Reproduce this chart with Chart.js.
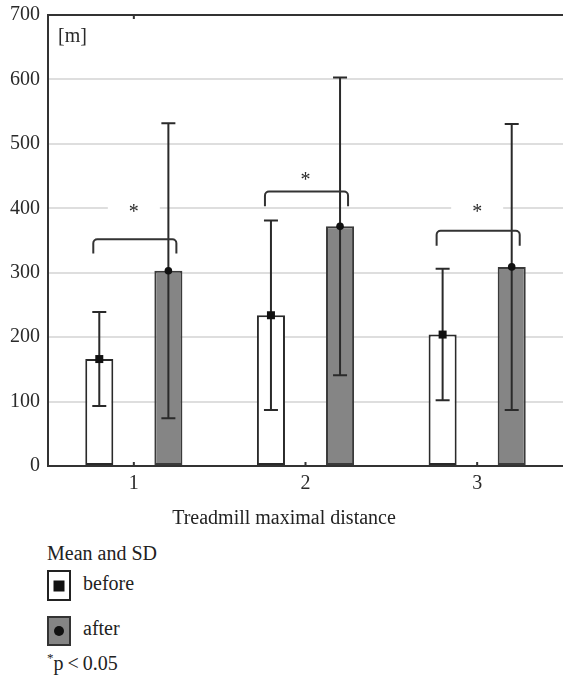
<!DOCTYPE html>
<html>
<head>
<meta charset="utf-8">
<script src="https://cdn.jsdelivr.net/npm/chart.js@4/dist/chart.umd.min.js"></script>
<style>
  body { margin: 0; background: #fff; }
  #wrap { position: relative; width: 563px; height: 678px; font-family: "Liberation Serif", serif; color: #222; }
  #chartBox { position: absolute; left: 0; top: 0; width: 563px; height: 540px; }
  .txt { position: absolute; font-size: 20px; line-height: 24px; white-space: nowrap; }
  .box { position: absolute; box-sizing: border-box; border: 2px solid #222; }
  .box i { position: absolute; left: 50%; top: 50%; background: #111; transform: translate(-50%, -50%); }
</style>
</head>
<body>
<div id="wrap">
  <div id="chartBox"><canvas id="chart"></canvas></div>
  <div class="txt" style="left:0; width:568px; text-align:center; top:505px;">Treadmill maximal distance</div>
  <div class="txt" style="left:47px; top:541px;">Mean and SD</div>
  <div class="box" style="left:47px; top:570px; width:24px; height:31px; background:#fff;"><i style="width:11px; height:11px;"></i></div>
  <div class="txt" style="left:83px; top:571px;">before</div>
  <div class="box" style="left:47px; top:616px; width:24px; height:30px; background:#858585; border-color:#333;"><i style="width:10px; height:10px; border-radius:50%;"></i></div>
  <div class="txt" style="left:83px; top:616px;">after</div>
  <div class="txt" style="left:47px; top:651px;"><span style="font-size:13px; position:relative; top:-8px;">*</span>p&thinsp;&lt;&thinsp;0.05</div>
</div>
<script>
const categories = ["1", "2", "3"];
const beforeMean = [166, 234, 204];
const beforeSD = [73, 147, 102];
const afterMean = [303, 372, 309];
const afterSD = [229, 231, 222];
const bracketTop = [352, 426, 365];
const bracketEnd = [330, 403, 342];
const starY = [399, 449, 399];
const yTicks = [0, 100, 200, 300, 400, 500, 600, 700];

const ink = "#2a2a2a";
const serif = "Liberation Serif";

// error bars, mean markers, brackets and stars
const extras = {
  id: "extras",
  beforeDatasetsDraw(chart) {
    const { ctx, scales: { x, y } } = chart;
    ctx.save();
    ctx.fillStyle = "#fff";
    categories.forEach((c, i) => {
      const cx = x.getPixelForValue(i);
      const cy = y.getPixelForValue(starY[i]);
      ctx.fillRect(cx - 26, cy - 5, 52, 10);
    });
    ctx.restore();
  },
  afterDatasetsDraw(chart) {
    const { ctx, chartArea, scales: { x, y } } = chart;
    const m0 = chart.getDatasetMeta(0).data;
    const m1 = chart.getDatasetMeta(1).data;
    ctx.save();
    ctx.strokeStyle = ink;
    ctx.fillStyle = "#111";
    ctx.lineWidth = 2;

    const errBar = (bx, mean, sd) => {
      const top = y.getPixelForValue(mean + sd);
      const bot = y.getPixelForValue(mean - sd);
      ctx.beginPath();
      ctx.moveTo(bx, top); ctx.lineTo(bx, bot);
      ctx.moveTo(bx - 7, top); ctx.lineTo(bx + 7, top);
      ctx.moveTo(bx - 7, bot); ctx.lineTo(bx + 7, bot);
      ctx.stroke();
    };
    m0.forEach((bar, i) => errBar(bar.x, beforeMean[i], beforeSD[i]));
    m1.forEach((bar, i) => errBar(bar.x, afterMean[i], afterSD[i]));

    m0.forEach((bar, i) => {
      const py = y.getPixelForValue(beforeMean[i]);
      ctx.fillRect(bar.x - 4, py - 4, 8, 8);
    });
    m1.forEach((bar, i) => {
      const py = y.getPixelForValue(afterMean[i]);
      ctx.beginPath();
      ctx.arc(bar.x, py, 3.8, 0, Math.PI * 2);
      ctx.fill();
    });

    // brackets
    ctx.strokeStyle = "#333";
    m0.forEach((bar, i) => {
      const x1 = bar.x - 6, x2 = m1[i].x + 8;
      const yt = y.getPixelForValue(bracketTop[i]);
      const ye = y.getPixelForValue(bracketEnd[i]);
      ctx.beginPath();
      ctx.moveTo(x1, ye);
      ctx.arcTo(x1, yt, x1 + 5, yt, 4);
      ctx.arcTo(x2, yt, x2, yt + 5, 4);
      ctx.lineTo(x2, ye);
      ctx.stroke();
    });

    // stars
    ctx.fillStyle = ink;
    ctx.font = "20px " + serif;
    ctx.textAlign = "center";
    ctx.textBaseline = "alphabetic";
    categories.forEach((c, i) => {
      const cx = x.getPixelForValue(i);
      ctx.fillText("*", cx, y.getPixelForValue(starY[i]) + 9.5);
    });

    // frame: top border, small inner ticks
    ctx.strokeStyle = "#333";
    ctx.beginPath();
    ctx.moveTo(chartArea.left - 1, chartArea.top);
    ctx.lineTo(chartArea.right, chartArea.top);
    categories.forEach((c, i) => {
      const cx = x.getPixelForValue(i);
      ctx.moveTo(cx, chartArea.bottom); ctx.lineTo(cx, chartArea.bottom - 4);
    });
    ctx.moveTo(x.getPixelForValue(0), chartArea.top); ctx.lineTo(x.getPixelForValue(0), chartArea.top + 4);
    ctx.stroke();

    // unit label
    ctx.textAlign = "left";
    ctx.textBaseline = "middle";
    ctx.fillText("[m]", chartArea.left + 10, chartArea.top + 22);
    ctx.restore();
  }
};

new Chart(document.getElementById("chart"), {
  type: "bar",
  data: {
    labels: categories,
    datasets: [
      {
        label: "before",
        data: beforeMean,
        backgroundColor: "#ffffff",
        borderColor: ink,
        borderWidth: 2,
        borderSkipped: false
      },
      {
        label: "after",
        data: afterMean,
        backgroundColor: "#858585",
        borderColor: "#3a3a3a",
        borderWidth: 2,
        borderSkipped: false
      }
    ]
  },
  options: {
    responsive: true,
    maintainAspectRatio: false,
    animation: false,
    categoryPercentage: 0.805,
    barPercentage: 0.406,
    layout: { padding: { top: 15, right: 0, left: 0, bottom: 0 } },
    plugins: {
      legend: { display: false },
      tooltip: { enabled: false }
    },
    scales: {
      x: {
        grid: { display: false, drawTicks: false },
        border: { display: true, color: "#333", width: 2 },
        ticks: { color: ink, padding: 6, font: { family: serif, size: 20 } },
        afterFit: (s) => { s.height = 74; s.paddingLeft = 0; s.paddingRight = 0; }
      },
      y: {
        min: 0,
        max: 700,
        afterBuildTicks: (s) => { s.ticks = yTicks.map((v) => ({ value: v })); },
        grid: {
          color: (c) => (c.tick.value === 0 || c.tick.value === 700 ? "rgba(0,0,0,0)" : "#dedede"),
          lineWidth: 2,
          drawTicks: false
        },
        border: { display: true, color: "#333", width: 2 },
        ticks: { color: ink, padding: 8, font: { family: serif, size: 20 } },
        afterFit: (s) => { s.width = 48; s.paddingTop = 0; s.paddingBottom = 0; }
      }
    }
  },
  plugins: [extras]
});
</script>
</body>
</html>
